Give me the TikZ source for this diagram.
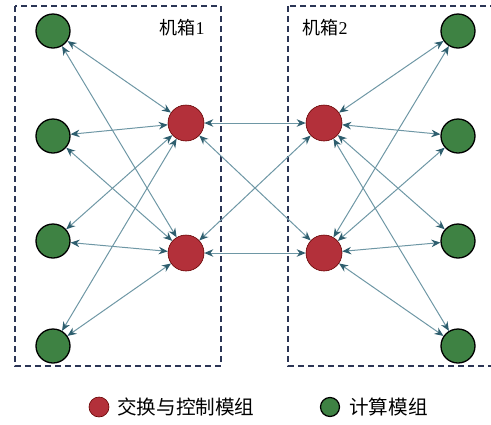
\documentclass[tikz,border=0pt]{standalone}
\usepackage{fontspec}
\setmainfont{Liberation Serif}
\newfontfamily\cjk{Noto Sans CJK SC}
\usetikzlibrary{arrows.meta}
\definecolor{linkc}{HTML}{6E97A5}
\definecolor{tipc}{HTML}{2E5E6E}
\definecolor{boxc}{HTML}{2B3555}
\definecolor{redc}{HTML}{B3303A}
\definecolor{greenc}{HTML}{3E8243}
\tikzset{
  x=1pt, y=-1pt,
  chassis/.style={draw=boxc, line width=1.8pt, dash pattern=on 6pt off 4pt},
  compute/.style={circle, draw=black, line width=1.3pt, fill=greenc, minimum size=34pt, inner sep=0pt},
  switch/.style={circle, draw=red!40!black, line width=0.6pt, fill=redc, minimum size=36pt, inner sep=0pt},
  link/.style={draw=linkc, line width=1pt, {Stealth[length=9pt,width=7.5pt,color=tipc]}-{Stealth[length=9pt,width=7.5pt,color=tipc]}},
  lab/.style={font=\fontsize{18}{20}\selectfont, inner sep=0pt},
  legendtext/.style={font=\cjk\fontsize{19.6}{22}\selectfont, anchor=west, inner sep=0pt},
}
\begin{document}
\begin{tikzpicture}
\useasboundingbox (0,0) rectangle (491,424);
\begin{scope}
\clip (0,0) rectangle (491,424);
% chassis frames
\draw[chassis] (15,6) rectangle (221,366);
\draw[chassis] (288,6) rectangle (497,366);
\end{scope}
\node[lab] at (182,28) {{\cjk 机箱}1};
\node[lab] at (325,28) {{\cjk 机箱}2};
% compute modules
\foreach \i/\y in {1/31,2/136,3/241,4/346} {
  \node[compute] (L\i) at (53,\y) {};
  \node[compute] (R\i) at (458,\y) {};
}
% switch and control modules
\node[switch] (SL1) at (186,123) {};
\node[switch] (SL2) at (186,253) {};
\node[switch] (SR1) at (324,123) {};
\node[switch] (SR2) at (324,253) {};
% links
\foreach \s in {1,2} {
  \foreach \i in {1,2,3,4} {
    \draw[link] (L\i) -- (SL\s);
    \draw[link] (SR\s) -- (R\i);
  }
  \foreach \t in {1,2} {
    \draw[link] (SL\s) -- (SR\t);
  }
}
% legend
\node[switch, minimum size=20pt] (legS) at (99,407) {};
\node[legendtext] (legSt) at (117,407) {交换与控制模组};
\node[compute, minimum size=19pt, line width=1.2pt] (legC) at (330,407) {};
\node[legendtext] (legCt) at (349,407) {计算模组};
\end{tikzpicture}
\end{document}
